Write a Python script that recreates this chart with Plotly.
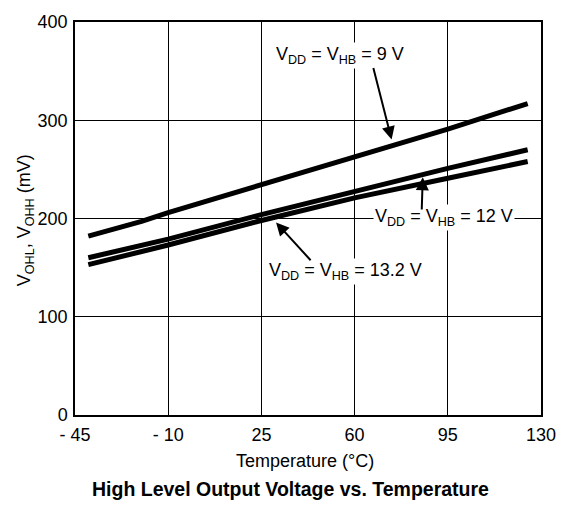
import plotly.graph_objects as go

temps = [-40, -20, -10, 25, 60, 95, 125]
v_9 = [182, 197, 206, 234, 262, 291, 317]
v_12 = [160, 173, 179, 204, 228, 251, 270]
v_13_2 = [153, 166, 173, 198, 221, 241, 258]

x_ticks = [-45, -10, 25, 60, 95, 130]
x_ticktext = ["- 45", "- 10", "25", "60", "95", "130"]
y_ticks = [0, 100, 200, 300, 400]

FONT = "Liberation Sans, Arial, Helvetica, sans-serif"

fig = go.Figure()
for ys in (v_9, v_12, v_13_2):
    fig.add_trace(go.Scatter(x=temps, y=ys, mode="lines",
                             line=dict(color="black", width=5),
                             showlegend=False, hoverinfo="skip"))

ann = []
def label(x, y, text):
    ann.append(dict(x=x, y=y, xref="x", yref="y", text=text, showarrow=False,
                    font=dict(family=FONT, size=18, color="black"),
                    bgcolor="white", borderpad=1))

def arrow(tx, ty, hx, hy):
    ann.append(dict(x=hx, y=hy, ax=tx, ay=ty, xref="x", yref="y", axref="x", ayref="y",
                    text="", showarrow=True, arrowhead=2, arrowsize=1.3,
                    arrowwidth=2, arrowcolor="black"))

label(54.5, 366, "V<sub>DD</sub> = V<sub>HB</sub> = 9 V")
arrow(66.9, 354.6, 73.9, 280.5)
label(93.5, 200.7, "V<sub>DD</sub> = V<sub>HB</sub> = 12 V")
arrow(85.2, 207.6, 85.6, 242)
label(56.4, 146, "V<sub>DD</sub> = V<sub>HB</sub> = 13.2 V")
arrow(44, 156, 30.5, 196)

ann.append(dict(x=-0.107, y=0.496, xref="paper", yref="paper", textangle=-90,
                xanchor="center", yanchor="middle",
                text="V<sub>OHL</sub>, V<sub>OHH</sub> (mV)", showarrow=False,
                font=dict(family=FONT, size=18, color="black")))
ann.append(dict(x=0.4925, y=(415 - 461.7) / 403, xref="paper", yref="paper",
                xanchor="center", yanchor="middle",
                text="Temperature (°C)", showarrow=False,
                font=dict(family=FONT, size=18, color="black")))
ann.append(dict(x=0.4635, y=(415 - 490.7) / 403, xref="paper", yref="paper",
                xanchor="center", yanchor="middle",
                text="<b>High Level Output Voltage vs. Temperature</b>", showarrow=False,
                font=dict(family=FONT, size=19.5, color="black")))

fig.update_layout(
    width=574, height=505,
    margin=dict(l=75, r=33, t=12, b=90),
    paper_bgcolor="white", plot_bgcolor="white",
    font=dict(family=FONT, size=18, color="black"),
    annotations=ann,
    xaxis=dict(range=[-45, 130], tickvals=x_ticks, ticktext=x_ticktext,
               showgrid=True, gridcolor="black", gridwidth=1,
               showline=True, linecolor="black", linewidth=1.5, mirror=True,
               zeroline=False, ticks="outside", ticklen=3, tickcolor="rgba(0,0,0,0)",
               tickfont=dict(family=FONT, size=18, color="black")),
    yaxis=dict(range=[0, 400], tickvals=y_ticks,
               showgrid=True, gridcolor="black", gridwidth=1,
               showline=True, linecolor="black", linewidth=1.5, mirror=True,
               zeroline=False, ticks="outside", ticklen=2, tickcolor="rgba(0,0,0,0)",
               tickfont=dict(family=FONT, size=18, color="black")),
)

fig.write_html("out.html")
